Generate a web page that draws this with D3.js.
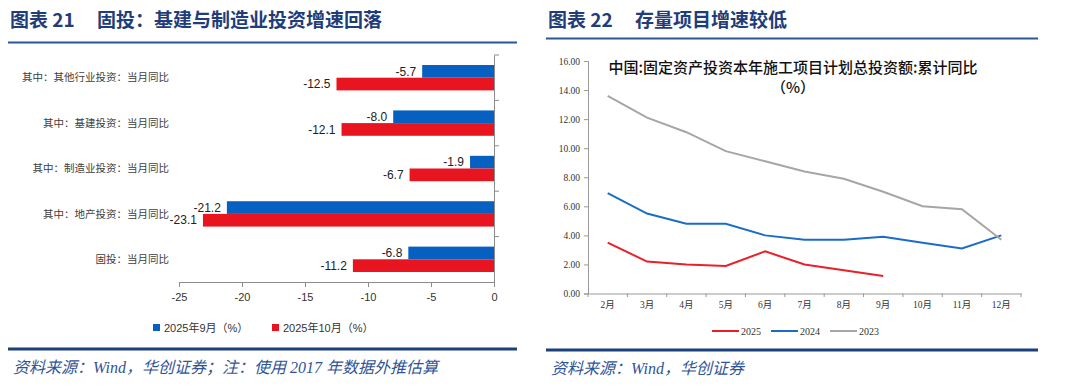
<!DOCTYPE html>
<html><head><meta charset="utf-8">
<script src="https://cdn.jsdelivr.net/npm/d3@7"></script>
<style>body{margin:0;background:#fff}svg{display:block}</style>
</head><body>
<svg id="c" width="1080" height="385"></svg>
<script>
// ---- data ----
const barCategories = ["其中：其他行业投资：当月同比","其中：基建投资：当月同比","其中：制造业投资：当月同比","其中：地产投资：当月同比","固投：当月同比"];
const barSeriesNames = ["2025年9月（%）","2025年10月（%）"];
const sep2025 = [-5.7,-8.0,-1.9,-21.2,-6.8];
const oct2025 = [-12.5,-12.1,-6.7,-23.1,-11.2];
const barTicks = [-25,-20,-15,-10,-5,0];

const months = ["2月","3月","4月","5月","6月","7月","8月","9月","10月","11月","12月"];
const lineNames = ["2025","2024","2023"];
const y2025 = [3.5,2.2,2.0,1.9,2.9,2.0,1.6,1.2];
const y2024 = [6.9,5.5,4.8,4.8,4.0,3.7,3.7,3.9,3.5,3.1,4.0];
const y2023 = [13.6,12.1,11.1,9.8,9.1,8.4,7.9,7.0,6.0,5.8,3.7];
const lineTicks = [0,2,4,6,8,10,12,14,16];

const svg = d3.select("#c");
const navy = "#1f3d7a", ruleC = "#2b5597";
const cjk = "'Noto Sans CJK SC','Noto Sans',sans-serif";
const serif = "'Liberation Serif','Noto Sans CJK SC',serif";
const hy = f => d => f(d).replace("\u2212","-");

// ---- headers/footers ----
function header(x0, x1, num, title, tx, ly){
  svg.append("text").attr("x", x0+2).attr("y", 27).attr("font-family", cjk).attr("font-weight", "bold")
    .attr("font-size", 19).attr("fill", navy).text(num);
  svg.append("text").attr("x", tx).attr("y", 27).attr("font-family", cjk).attr("font-weight", "bold")
    .attr("font-size", 19).attr("fill", navy).text(title);
  svg.append("line").attr("x1", x0).attr("x2", x1).attr("y1", ly).attr("y2", ly)
    .attr("stroke", ruleC).attr("stroke-width", 2);
}
function footer(x0, x1, ly, txt){
  svg.append("line").attr("x1", x0).attr("x2", x1).attr("y1", ly).attr("y2", ly)
    .attr("stroke", "#1c3f80").attr("stroke-width", 3);
  svg.append("text").attr("x", x0+5).attr("y", ly+24).attr("font-family", serif).attr("font-style", "italic")
    .attr("font-size", 16).attr("fill", "#2f5496").text(txt);
}
header(8, 517, "图表 21", "固投：基建与制造业投资增速回落", 97, 42.5);
header(546, 1038, "图表 22", "存量项目增速较低", 635, 38.5);
footer(8, 517, 349, "资料来源：Wind，华创证券；注：使用 2017 年数据外推估算");
footer(546, 1038, 350, "资料来源：Wind，华创证券");

// ---- left bar chart ----
const x = d3.scaleLinear().domain([-25,0]).range([179,494]);
const y = d3.scaleBand().domain(barCategories).range([55,282]);
const sub = d3.scaleBand().domain(barSeriesNames).range([0,y.bandwidth()]).paddingOuter(0.79);
const barColors = ["#0660c2","#e8141f"];
const gL = svg.append("g");
const xAxis = gL.append("g").attr("transform","translate(0,282)")
  .call(d3.axisBottom(x).tickValues(barTicks).tickSize(5).tickPadding(6).tickFormat(hy(d3.format("d"))));
xAxis.select(".domain").attr("stroke","#8c8c8c");
xAxis.selectAll(".tick line").attr("stroke","#8c8c8c");
xAxis.selectAll("text").attr("font-family","'Liberation Sans',sans-serif").attr("font-size",11).attr("fill","#333");
const yAxis = gL.append("g").attr("transform","translate(494,0)")
  .call(d3.axisLeft(y).tickSize(0).tickFormat(""));
yAxis.select(".domain").attr("stroke","#8c8c8c");
gL.selectAll(".bt").data(barCategories).join("line")
  .attr("x1",494).attr("x2",499).attr("y1",d=>y(d)).attr("y2",d=>y(d)).attr("stroke","#8c8c8c");
gL.selectAll(".cl").data(barCategories).join("text")
  .attr("x",169).attr("y",d=>y(d)+y.bandwidth()/2).attr("dy","0.35em").attr("text-anchor","end")
  .attr("font-family",cjk).attr("font-size",10.5).attr("fill","#404040").text(d=>d);
const vf = hy(d3.format(".1f"));
[sep2025, oct2025].forEach((vals, si)=>{
  const name = barSeriesNames[si];
  gL.selectAll(".b"+si).data(vals).join("rect")
    .attr("x",d=>x(d)).attr("width",d=>x(0)-x(d))
    .attr("y",(d,i)=>y(barCategories[i])+sub(name)).attr("height",sub.bandwidth())
    .attr("fill",barColors[si]);
  gL.selectAll(".v"+si).data(vals).join("text")
    .attr("x",d=>x(d)-6).attr("y",(d,i)=>y(barCategories[i])+sub(name)+sub.bandwidth()/2)
    .attr("dy","0.35em").attr("text-anchor","end")
    .attr("font-family","'Liberation Sans',sans-serif").attr("font-size",12).attr("fill","#222")
    .text(d=>vf(d));
});
const legL = [{x:153,c:barColors[0],t:barSeriesNames[0]},{x:272,c:barColors[1],t:barSeriesNames[1]}];
legL.forEach(l=>{
  gL.append("rect").attr("x",l.x).attr("y",324).attr("width",7).attr("height",7).attr("fill",l.c);
  gL.append("text").attr("x",l.x+11).attr("y",328).attr("dy","0.35em")
    .attr("font-family","'Liberation Sans','Noto Sans CJK SC',sans-serif").attr("font-size",11).attr("fill","#333").text(l.t);
});

// ---- right line chart ----
const xr = d3.scaleBand().domain(months).range([588,1021]);
const yr = d3.scaleLinear().domain([0,16]).range([293.5,61]);
const gR = svg.append("g");
const yAx = gR.append("g").attr("transform","translate(588,0)")
  .call(d3.axisLeft(yr).tickValues(lineTicks).tickSize(4).tickPadding(4).tickFormat(d3.format(".2f")));
yAx.select(".domain").attr("stroke","#999");
yAx.selectAll(".tick line").attr("stroke","#999");
yAx.selectAll("text").attr("font-family",serif).attr("font-size",9.5).attr("fill","#333");
const xAx = gR.append("g").attr("transform","translate(0,293.5)")
  .call(d3.axisBottom(xr).tickSize(0).tickPadding(8));
xAx.select(".domain").attr("stroke","#999");
xAx.selectAll("text").attr("font-family",serif).attr("font-size",9.5).attr("fill","#333");
gR.selectAll(".mt").data(months.concat(["end"])).join("line")
  .attr("x1",(d,i)=>i<months.length?xr(d):xr.range()[1]).attr("x2",(d,i)=>i<months.length?xr(d):xr.range()[1])
  .attr("y1",293.5).attr("y2",297).attr("stroke","#999");
const lineColors = ["#e8202a","#1a6dc7","#a6a6a6"];
const line = d3.line().x((d,i)=>xr(months[i])+xr.bandwidth()/2).y(d=>yr(d));
[y2025,y2024,y2023].forEach((vals,si)=>{
  gR.append("path").datum(vals).attr("d",line).attr("fill","none")
    .attr("stroke",lineColors[si]).attr("stroke-width",2);
});
gR.append("text").attr("x",793).attr("y",68).attr("dy","0.35em").attr("text-anchor","middle")
  .attr("font-family",cjk).attr("font-size",15).attr("font-weight",500).attr("fill","#111")
  .text("中国:固定资产投资本年施工项目计划总投资额:累计同比");
gR.append("text").attr("x",793).attr("y",88).attr("dy","0.35em").attr("text-anchor","middle")
  .attr("font-family",cjk).attr("font-size",15).attr("font-weight",500).attr("fill","#111").text("（%）");
const legX = [712,771,830];
lineNames.forEach((n,i)=>{
  gR.append("line").attr("x1",legX[i]).attr("x2",legX[i]+27).attr("y1",331).attr("y2",331)
    .attr("stroke",lineColors[i]).attr("stroke-width",2);
  gR.append("text").attr("x",legX[i]+29).attr("y",331).attr("dy","0.35em")
    .attr("font-family",serif).attr("font-size",10).attr("fill","#333").text(n);
});
</script>
</body></html>
